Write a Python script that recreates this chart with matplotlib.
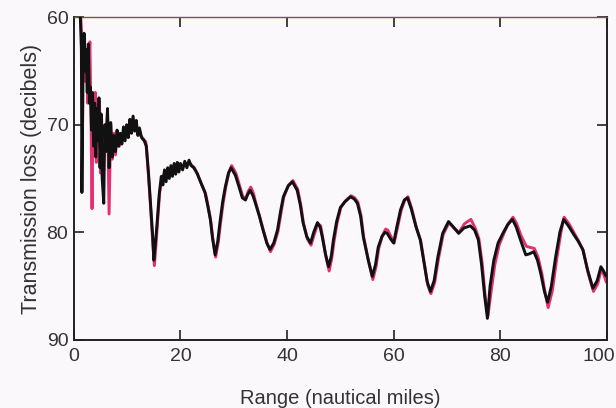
import matplotlib
matplotlib.use("Agg")
import matplotlib.pyplot as plt
from matplotlib.transforms import ScaledTranslation

# Black trace: range (nautical miles) and transmission loss (dB)
black_range = [1.2, 1.4, 1.5, 1.7, 1.9, 2.1, 2.3, 2.5, 2.7, 2.9, 3.1, 3.3, 3.5, 3.7, 3.9,
               4.1, 4.3, 4.5, 4.7, 4.9, 5.1, 5.3, 5.6, 5.8, 6.0, 6.3, 6.6, 6.9, 7.2, 7.5,
               7.8, 8.1, 8.4, 8.7, 9.0, 9.3, 9.6, 9.9, 10.2, 10.5, 10.8, 11.1, 11.4, 11.7,
               12.0, 12.3, 12.7, 13.2, 13.6, 14.0, 14.4, 14.8, 15.0, 15.3, 15.6, 16.0,
               16.4, 16.7, 17.0, 17.3, 17.6, 17.9, 18.2, 18.5, 18.8, 19.1, 19.4, 19.7,
               20.0, 20.4, 20.8, 21.2, 21.6, 22.0, 22.5, 23.1, 24.0, 24.6, 25.1, 25.6,
               26.0, 26.5, 27.0, 27.4, 27.9, 28.4, 29.0, 29.5, 30.3, 31.0, 31.6, 32.2,
               32.6, 33.1, 33.6, 34.0, 34.8, 35.5, 36.2, 36.8, 37.5, 38.2, 38.8, 39.3,
               40.2, 41.0, 41.9, 42.5, 43.0, 43.7, 44.4, 45.0, 45.7, 46.2, 46.6, 47.2,
               47.8, 48.3, 48.7, 49.3, 50.0, 50.8, 51.9, 52.6, 53.2, 53.8, 54.3, 55.2,
               56.0, 56.6, 57.1, 57.8, 58.4, 58.8, 59.4, 60.0, 60.6, 61.3, 62.0, 62.6,
               63.3, 64.2, 65.0, 65.6, 66.3, 66.9, 67.6, 68.3, 69.2, 70.3, 71.2, 72.2,
               73.2, 74.4, 75.2, 75.9, 76.5, 77.1, 77.6, 78.1, 78.8, 79.6, 80.5, 81.4,
               82.3, 83.0, 83.8, 84.8, 85.5, 86.3, 87.0, 87.6, 88.3, 88.9, 89.6, 90.4,
               91.2, 91.9, 92.8, 93.8, 94.6, 95.5, 96.4, 97.4, 98.2, 98.9, 99.4, 99.8]
black_loss = [60.0, 63.0, 76.3, 66.0, 61.5, 65.0, 63.0, 67.0, 62.5, 68.0, 66.5, 70.5, 67.0, 72.0, 68.0,
              73.0, 68.5, 71.5, 67.5, 74.0, 69.0, 75.0, 77.3, 70.0, 72.5, 68.5, 74.0, 69.8, 73.0, 71.0,
              72.5, 70.5, 72.0, 70.8, 71.8, 70.2, 71.5, 70.0, 71.2, 69.5, 70.8, 69.2, 70.6, 69.6,
              71.0, 70.3, 71.2, 71.5, 72.0, 74.5, 77.5, 80.5, 82.6, 81.0, 79.2, 76.5,
              74.8, 75.6, 74.2, 75.3, 74.0, 75.0, 73.8, 74.8, 73.6, 74.6, 73.5, 74.4,
              73.6, 74.2, 73.4, 74.0, 73.3, 73.8, 74.0, 74.5, 75.6, 76.3, 77.5, 78.8,
              80.5, 82.1, 80.8, 79.1, 77.2, 75.8, 74.5, 74.0, 74.7, 75.8, 76.8, 77.0,
              76.5, 76.1, 76.6, 77.2, 78.5, 79.8, 81.0, 81.6, 81.0, 79.8, 78.0, 76.7,
              75.7, 75.3, 76.1, 77.5, 79.1, 80.4, 81.0, 80.0, 79.1, 79.5, 80.4, 82.0,
              83.2, 82.2, 80.7, 79.0, 77.7, 77.2, 76.7, 76.9, 77.3, 78.5, 80.4, 82.5,
              84.1, 83.0, 81.4, 80.4, 80.0, 80.1, 80.6, 81.0, 79.5, 77.9, 77.0, 76.8,
              77.8, 79.5, 80.7, 82.5, 84.6, 85.5, 84.5, 82.3, 80.1, 79.0, 79.5, 80.1,
              79.6, 79.4, 79.8, 80.7, 83.0, 86.0, 88.0, 85.0, 82.6, 81.0, 80.1, 79.3,
              78.8, 79.5, 80.7, 82.1, 82.0, 81.8, 82.6, 83.8, 85.5, 86.5, 85.0, 82.3,
              80.0, 78.8, 79.4, 80.2, 80.8, 81.6, 83.5, 85.2, 84.5, 83.2, 83.6, 84.0]

# Magenta trace
pink_range = [1.3, 1.5, 1.8, 2.0, 2.2, 2.4, 2.6, 2.8, 3.0, 3.2, 3.4, 3.6, 3.8, 4.0, 4.2,
              4.4, 4.6, 4.8, 5.0, 5.2, 5.4, 5.7, 6.0, 6.3, 6.6, 6.9, 7.2, 7.5, 7.8, 8.1,
              8.5, 9.0, 9.5, 10.0, 10.5, 11.0, 11.5, 12.0, 12.5, 13.0, 13.5, 14.0, 14.4,
              14.8, 15.1, 15.4, 15.7, 16.1, 16.5, 17.0, 17.5, 18.0, 18.5, 19.0, 19.5,
              20.0, 20.5, 21.0, 21.5, 22.0, 22.6, 23.2, 24.1, 24.7, 25.2, 25.7, 26.1,
              26.6, 27.1, 27.5, 28.0, 28.5, 29.1, 29.6, 30.4, 31.1, 31.7, 32.3, 32.7,
              33.2, 33.7, 34.1, 34.9, 35.6, 36.3, 36.9, 37.6, 38.3, 38.9, 39.4, 40.3,
              41.1, 42.0, 42.6, 43.1, 43.8, 44.5, 45.1, 45.8, 46.3, 46.7, 47.3, 47.9,
              48.4, 48.8, 49.4, 50.1, 50.9, 52.0, 52.7, 53.3, 53.9, 54.4, 55.3, 56.1,
              56.7, 57.2, 57.9, 58.5, 58.9, 59.5, 60.1, 60.7, 61.4, 62.1, 62.7, 63.4,
              64.3, 65.1, 65.7, 66.4, 67.0, 67.7, 68.4, 69.3, 70.4, 71.3, 72.3, 73.3,
              74.5, 75.3, 76.0, 76.6, 77.2, 77.7, 78.3, 79.0, 79.8, 80.6, 81.5, 82.4,
              83.1, 83.9, 84.9, 85.6, 86.4, 87.1, 87.8, 88.5, 89.0, 89.8, 90.6, 91.4,
              92.0, 92.9, 93.9, 94.7, 95.6, 96.5, 97.5, 98.3, 99.0, 99.5, 99.9]
pink_loss = [60.0, 62.5, 65.0, 62.0, 66.0, 64.0, 68.0, 63.5, 62.3, 69.0, 77.8, 67.5, 71.0, 67.0, 73.5,
             68.5, 72.0, 67.8, 74.5, 69.5, 75.5, 70.5, 72.0, 68.8, 78.3, 70.0, 73.2, 70.8, 72.8, 70.6,
             72.0, 71.2, 70.8, 71.0, 69.8, 69.5, 70.2, 70.8, 71.0, 71.3, 71.6, 74.8, 77.8,
             81.0, 83.1, 81.2, 79.0, 76.3, 75.0, 74.5, 74.6, 74.2, 74.4, 74.0, 74.2,
             73.8, 73.9, 73.6, 73.6, 73.7, 74.0, 74.6, 75.7, 76.4, 77.6, 79.0, 80.7,
             82.3, 80.9, 79.2, 77.3, 75.8, 74.4, 73.8, 74.5, 75.7, 76.7, 76.8, 76.2,
             75.8, 76.4, 77.2, 78.6, 79.9, 81.1, 81.8, 81.1, 79.9, 78.1, 76.7,
             75.6, 75.2, 76.0, 77.5, 79.2, 80.6, 81.2, 80.2, 79.2, 79.4, 80.5, 82.3,
             83.6, 82.4, 80.9, 79.1, 77.7, 77.1, 76.6, 76.8, 77.2, 78.5, 80.5, 82.7,
             84.4, 83.2, 81.5, 80.3, 79.7, 79.8, 80.4, 81.0, 79.6, 78.0, 77.0, 76.7,
             77.8, 79.6, 80.8, 82.7, 84.9, 85.7, 84.7, 82.5, 80.2, 79.1, 79.6, 80.0,
             79.2, 78.8, 79.6, 80.6, 82.8, 86.0, 87.8, 85.5, 83.0, 81.2, 80.2, 79.2,
             78.6, 79.2, 80.3, 81.3, 81.4, 81.5, 82.3, 83.8, 85.8, 87.0, 85.4, 82.5,
             80.0, 78.6, 79.2, 80.1, 80.8, 81.7, 83.8, 85.5, 84.8, 83.4, 84.0, 84.6]

x_ticks = [0, 20, 40, 60, 80, 100]
y_ticks = [60, 70, 80, 90]

bg = "#fbf8fb"
fig = plt.figure(figsize=(6.16, 4.08), dpi=100, facecolor=bg)
ax = fig.add_axes([0.120, 0.167, 0.865, 0.791], facecolor=bg)

ax.plot(pink_range, pink_loss, color="#e4306f", lw=2.1, solid_joinstyle="round", zorder=2)
ax.plot(black_range, black_loss, color="#111111", lw=2.1, solid_joinstyle="round", zorder=3)

ax.set_xlim(0, 100)
ax.set_ylim(90, 60)
ax.set_xticks(x_ticks)
ax.set_yticks(y_ticks)

fam = ["Liberation Sans", "DejaVu Sans"]
ax.tick_params(direction="in", length=7, width=1.2, colors="#222222",
               top=True, right=True, labelsize=14, pad=4)
ax.tick_params(axis="x", pad=6)
for lab in ax.get_xticklabels() + ax.get_yticklabels():
    lab.set_fontfamily(fam)
    lab.set_color("#333333")

# keep the "100" label inside the canvas, as in the reference
last = ax.get_xticklabels()[-1]
last.set_transform(last.get_transform() + ScaledTranslation(-6 / 72, 0, fig.dpi_scale_trans))

for side in ["left", "bottom", "right"]:
    ax.spines[side].set_linewidth(1.4)
    ax.spines[side].set_color("#222222")
ax.spines["top"].set_linewidth(1.0)
ax.spines["top"].set_color("#6b5f3a")

ax.set_xlabel("Range (nautical miles)", fontsize=14.5, family=fam, color="#333333", labelpad=17)
ax.set_ylabel("Transmission loss (decibels)", fontsize=15.5, family=fam, color="#333333", labelpad=3)

fig.savefig("out.png", dpi=100, facecolor=bg)
